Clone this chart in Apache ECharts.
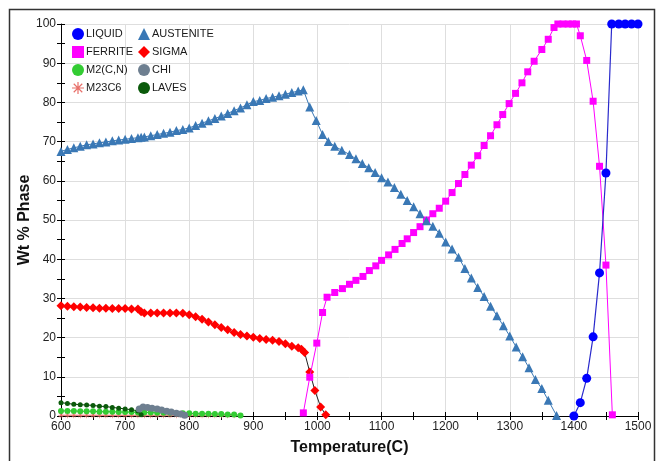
<!DOCTYPE html>
<html>
<head>
<meta charset="utf-8">
<script src="https://cdn.jsdelivr.net/npm/echarts@6/dist/echarts.min.js"></script>
<style>html,body{margin:0;padding:0;background:#fff;}#c{width:656px;height:461px;}</style>
</head>
<body>
<div id="c"></div>
<script>
const liquidT = [1400,1410,1420,1430,1440,1450,1459,1470,1480,1490,1500];
const liquidV = [0,3.4,9.6,20.2,36.5,62,100,100,100,100,100];

const ferriteT = [978,988,999,1008,1015,1027,1039,1050,1060,1071,1081,1091,1100,1111,1121,1132,1140,1150,1160,1170,1180,1190,1200,1210,1220,1230,1240,1250,1260,1270,1280,1289,1299,1309,1319,1328,1338,1350,1360,1369,1375,1383,1391,1398,1404,1410,1420,1430,1440,1450,1460];
const ferriteV = [0.8,9.9,18.6,26.4,30.3,31.5,32.5,33.6,34.6,35.6,37.1,38.3,39.7,41.1,42.5,44.0,45.2,46.8,48.3,50.0,51.6,53.0,54.8,57.0,59.3,61.6,64.0,66.4,69.0,71.5,74.3,76.9,79.7,82.3,85.0,87.8,90.5,93.5,96.1,99.1,100,100,100,100,100,97.0,90.7,80.3,63.7,38.5,0.3];

const austT = [600,610,620,630,640,650,660,670,680,690,700,710,720,725,730,740,750,760,770,780,790,800,810,820,830,840,850,860,870,880,890,900,910,920,930,940,950,960,970,978,988,998,1008,1017,1027,1038,1050,1060,1070,1080,1090,1100,1110,1120,1130,1140,1150,1160,1170,1180,1190,1200,1210,1220,1230,1240,1250,1260,1270,1280,1290,1300,1310,1320,1330,1340,1350,1360,1373];
const austV = [67.5,68.0,68.4,68.8,69.2,69.4,69.7,69.9,70.2,70.4,70.6,70.8,71.0,71.1,71.2,71.5,71.8,72.1,72.4,72.8,73.1,73.5,74.1,74.7,75.3,75.9,76.5,77.2,77.9,78.6,79.4,80.2,80.5,81.0,81.3,81.7,82.1,82.5,82.9,83.2,78.8,75.4,71.8,70.0,68.8,67.8,66.7,65.6,64.4,63.3,62.1,60.8,59.7,58.3,56.6,55.0,53.4,51.6,49.8,48.4,46.6,44.4,42.6,40.5,37.6,35.2,32.8,30.5,28.0,25.6,23.0,20.4,17.6,15.1,12.3,9.3,7.0,4.0,0.1];

const sigmaT = [600,610,620,630,640,650,660,670,680,690,700,710,720,725,730,740,750,760,770,780,790,800,810,820,830,840,850,860,870,880,890,900,910,920,930,940,950,960,970,975,980,988,996,1005,1013];
const sigmaV = [28.1,28.0,27.9,27.8,27.7,27.6,27.5,27.5,27.4,27.4,27.4,27.3,27.3,26.6,26.3,26.3,26.3,26.3,26.3,26.3,26.2,25.8,25.3,24.7,24.0,23.3,22.6,22.0,21.3,20.8,20.4,20.1,19.8,19.5,19.3,19.0,18.4,17.8,17.4,17.0,16.2,11.2,6.5,2.3,0.3];

const m2T = [600,610,620,630,640,650,660,670,680,690,700,710,720,730,740,750,760,770,780,790,800,810,820,830,840,850,860,870,880];
const m2V = [1.3,1.3,1.3,1.2,1.2,1.2,1.1,1.1,1.1,1.0,1.0,1.0,0.9,0.9,0.9,0.8,0.8,0.8,0.7,0.7,0.7,0.6,0.6,0.6,0.5,0.5,0.4,0.4,0.1];

const m23T = [600,610,620,630,640,650,660,670,680,690,700,710,720,730,740,750,760,770,780,790,800,810,820,830,840,850,860,870];
const m23V = [0.2,0.2,0.2,0.2,0.2,0.2,0.2,0.2,0.2,0.2,0.2,0.2,0.2,0.2,0.2,0.2,0.2,0.2,0.2,0.2,0.2,0.2,0.2,0.2,0.2,0.2,0.2,0.2];

const chiT = [722,728,735,742,750,757,765,772,780,787,793];
const chiV = [1.8,2.3,2.2,2.0,1.8,1.5,1.2,1.0,0.7,0.5,0.2];

const lavesT = [600,610,620,630,640,650,660,670,680,690,700,710,720,725];
const lavesV = [3.4,3.2,3.0,2.9,2.8,2.7,2.5,2.4,2.2,2.0,1.8,1.6,1.3,0.3];

const xTicks = [600,700,800,900,1000,1100,1200,1300,1400,1500];

function zip(a,b){return a.map((v,i)=>[v,b[i]]);}

const asterisk = 'path://M9,0h2v20h-2z M0,9h20v2h-20z M2.2,3.6l1.4-1.4l14.2,14.2l-1.4,1.4z M16.4,2.2l1.4,1.4l-14.2,14.2l-1.4-1.4z';
const FONT = 'Liberation Sans, Arial, sans-serif';

const chart = echarts.init(document.getElementById('c'), null, {renderer:'canvas'});
const option = {
  animation:false,
  backgroundColor:'#fff',
  grid:{left:61,right:18,top:24,bottom:40},
  legend:[
    {left:72, top:28, orient:'vertical', padding:0, itemGap:6, itemWidth:12, itemHeight:12,
     textStyle:{fontSize:11, fontFamily:FONT, color:'#1a1a1a', padding:[0,0,0,-3]},
     data:[{name:'LIQUID',icon:'circle'},{name:'FERRITE',icon:'rect'},{name:'M2(C,N)',icon:'circle'},{name:'M23C6',icon:asterisk}]},
    {left:138, top:28, orient:'vertical', padding:0, itemGap:6, itemWidth:12, itemHeight:12,
     textStyle:{fontSize:11, fontFamily:FONT, color:'#1a1a1a', padding:[0,0,0,-3]},
     data:[{name:'AUSTENITE',icon:'triangle'},{name:'SIGMA',icon:'diamond'},{name:'CHI',icon:'circle'},{name:'LAVES',icon:'circle'}]}
  ],
  xAxis:[
    {type:'value', min:600, max:1500, interval:100,
     axisLine:{lineStyle:{color:'#000',width:1}},
     axisTick:{length:4, lineStyle:{color:'#000'}},
     minorTick:{show:true, splitNumber:2, length:4, lineStyle:{color:'#000'}},
     axisLabel:{color:'#222', fontSize:12, fontFamily:FONT, margin:5,
       formatter:v=> xTicks.indexOf(v)>=0 ? String(v) : ''},
     splitLine:{lineStyle:{color:'#dedede'}},
     name:'Temperature(C)', nameLocation:'middle', nameGap:24, nameMoveOverlap:false,
     nameTextStyle:{fontSize:16, fontWeight:'bold', color:'#111', fontFamily:FONT}},
    {type:'value', min:600, max:1500, interval:50, position:'bottom',
     axisLine:{show:false}, axisTick:{inside:true, length:4, lineStyle:{color:'#000'}},
     axisLabel:{show:false}, splitLine:{show:false}}
  ],
  yAxis:[
    {type:'value', min:0, max:100, interval:10,
     axisLine:{show:true, lineStyle:{color:'#000',width:1}},
     axisTick:{show:true, length:4, lineStyle:{color:'#000'}},
     minorTick:{show:true, splitNumber:2, length:4, lineStyle:{color:'#000'}},
     axisLabel:{color:'#222', fontSize:12, fontFamily:FONT, margin:5},
     splitLine:{lineStyle:{color:'#dedede'}},
     name:'Wt % Phase', nameLocation:'middle', nameGap:28, nameMoveOverlap:false,
     nameTextStyle:{fontSize:16, fontWeight:'bold', color:'#111', fontFamily:FONT}},
    {type:'value', min:0, max:100, interval:5, position:'left',
     axisLine:{show:false}, axisTick:{show:true, inside:true, length:4, lineStyle:{color:'#000'}},
     axisLabel:{show:false}, splitLine:{show:false}}
  ],
  series:[
    {name:'M23C6', type:'line', data:zip(m23T,m23V), symbol:asterisk, symbolSize:6,
     itemStyle:{color:'#e8706a'}, lineStyle:{color:'#e8706a',width:1}, z:2},
    {name:'M2(C,N)', type:'line', data:zip(m2T,m2V), symbol:'circle', symbolSize:6,
     itemStyle:{color:'#33cc33'}, lineStyle:{color:'#33aa33',width:1}, z:3},
    {name:'LAVES', type:'line', data:zip(lavesT,lavesV), symbol:'circle', symbolSize:5,
     itemStyle:{color:'#0b5a0b'}, lineStyle:{color:'#0b3a0b',width:1}, z:3},
    {name:'CHI', type:'line', data:zip(chiT,chiV), symbol:'circle', symbolSize:7,
     itemStyle:{color:'#6e7f90'}, lineStyle:{color:'#6e7f90',width:1}, z:4},
    {name:'SIGMA', type:'line', data:zip(sigmaT,sigmaV), symbol:'diamond', symbolSize:9,
     itemStyle:{color:'#ff0000'}, lineStyle:{color:'#222',width:1}, z:4},
    {name:'FERRITE', type:'line', data:zip(ferriteT,ferriteV), symbol:'rect', symbolSize:7,
     itemStyle:{color:'#ff00ff'}, lineStyle:{color:'#ff00ff',width:1}, z:5},
    {name:'AUSTENITE', type:'line', data:zip(austT,austV), symbol:'triangle', symbolSize:9,
     itemStyle:{color:'#3a78b5'}, lineStyle:{color:'#3a78b5',width:1}, z:5},
    {name:'LIQUID', type:'line', data:zip(liquidT,liquidV), symbol:'circle', symbolSize:9,
     itemStyle:{color:'#0000ff'}, lineStyle:{color:'#2a2acc',width:1.2}, z:6}
  ],
  graphic:[
    {type:'rect', shape:{x:9.5, y:9.5, width:645, height:460}, silent:true,
     style:{fill:null, stroke:'#333', lineWidth:1.5}, z:-1}
  ]
};
chart.setOption(option);
</script>
</body>
</html>
